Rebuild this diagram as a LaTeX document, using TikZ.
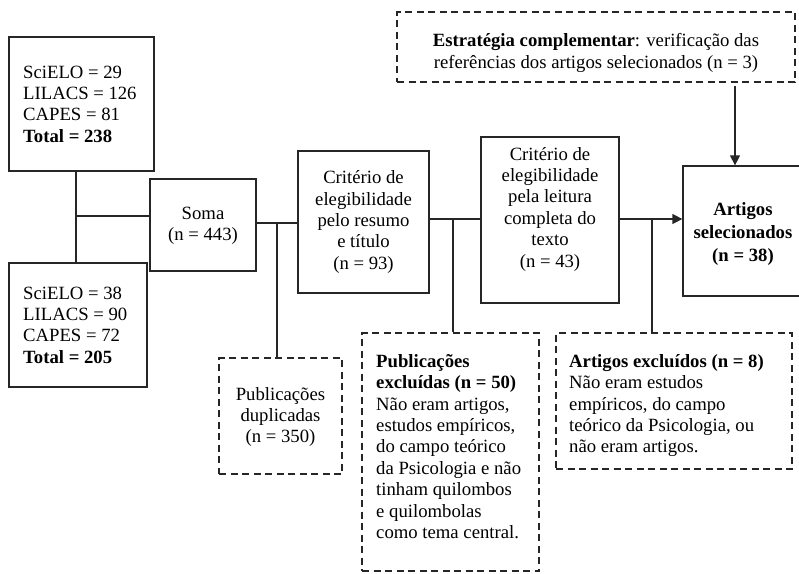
\documentclass[tikz,border=0pt]{standalone}
\usepackage{fontspec}
\setmainfont{Liberation Serif}
\usetikzlibrary{arrows.meta}
\newcommand{\fsz}{\fontsize{18.7}{21.4}\selectfont}
\begin{document}
\begin{tikzpicture}[x=1pt,y=-1pt,
  boxline/.style={line width=1.3pt, draw=black!85},
  solidbox/.style={boxline, rectangle, inner sep=0pt},
  dashbox/.style={boxline, rectangle, inner sep=0pt, dash pattern=on 7pt off 4.5pt},
  txt/.style={font=\fsz, inner sep=0pt, text=black},
  conn/.style={line width=1.3pt, draw=black!85},
  arr/.style={conn, -{Triangle[length=10pt,width=10pt]}}]
\useasboundingbox (0,0) rectangle (799,573);

% boxes
\node[solidbox, minimum width=145pt, minimum height=134pt] (b1) at (81.5,104) {};
\node[solidbox, minimum width=138pt, minimum height=124pt] (b2) at (78,325) {};
\node[solidbox, minimum width=106pt, minimum height=92pt] (soma) at (203,225) {};
\node[solidbox, minimum width=131pt, minimum height=142pt] (crit1) at (363.5,222) {};
\node[solidbox, minimum width=138pt, minimum height=166pt] (crit2) at (550,220) {};
\node[solidbox, minimum width=120pt, minimum height=130pt] (artsel) at (743,231) {};
\node[dashbox, minimum width=398pt, minimum height=70pt] (estr) at (596,47) {};
\node[dashbox, minimum width=123pt, minimum height=116pt] (dup) at (280.5,416) {};
\node[dashbox, minimum width=177pt, minimum height=238pt] (pubex) at (450.5,452) {};
\node[dashbox, minimum width=236pt, minimum height=136pt] (artex) at (674,401) {};

% texts
\node[txt, anchor=west, align=left] (b1t) at (23,104)
  {SciELO = 29\\LILACS = 126\\CAPES = 81\\\textbf{Total = 238}};
\node[txt, anchor=west, align=left] (b2t) at (23,325)
  {SciELO = 38\\LILACS = 90\\CAPES = 72\\\textbf{Total = 205}};
\node[txt, align=center] (somat) at (203,226) {Soma\\(n = 443)};
\node[txt, align=center] (crit1t) at (363.5,222)
  {Critério de\\elegibilidade\\pelo resumo\\e título\\(n = 93)};
\node[txt, align=center] (crit2t) at (550,209)
  {Critério de\\elegibilidade\\pela leitura\\completa do\\texto\\(n = 43)};
\node[txt, align=center, font=\fontsize{18.7}{23}\selectfont\bfseries] (artselt) at (743,234)
  {Artigos\\selecionados\\(n = 38)};
\node[txt, align=center] (estrt) at (596,53)
  {\textbf{Estratégia complementar}: verificação das\\referências dos artigos selecionados (n = 3)};
\node[txt, align=center] (dupt) at (280.5,417)
  {Publicações\\duplicadas\\(n = 350)};
\node[txt, anchor=north west, align=left] (pubext) at (376,354)
  {\textbf{Publicações}\\\textbf{excluídas (n = 50)}\\Não eram artigos,\\estudos empíricos,\\do campo teórico\\da Psicologia e não\\tinham quilombos\\e quilombolas\\como tema central.};
\node[txt, anchor=north west, align=left] (artext) at (569,354)
  {\textbf{Artigos excluídos (n = 8)}\\Não eram estudos\\empíricos, do campo\\teórico da Psicologia, ou\\não eram artigos.};

% junctions
\coordinate (j1) at (76,216);
\coordinate (j2) at (277,223);
\coordinate (j3) at (453,219);
\coordinate (j4) at (652,219);
\coordinate (j5) at (735,86);

% connectors
\draw[conn] (b1.south -| j1) -- (b2.north -| j1);
\draw[conn] (j1) -- (j1 -| soma.west);
\draw[conn] (j2 -| soma.east) -- (j2 -| crit1.west);
\draw[conn] (j2) -- (j2 |- dup.north);
\draw[conn] (j3 -| crit1.east) -- (j3 -| crit2.west);
\draw[conn] (j3) -- (j3 |- pubex.north);
\draw[arr] (j4 -| crit2.east) -- (j4 -| artsel.west);
\draw[conn] (j4) -- (j4 |- artex.north);
\draw[arr] (j5) -- (j5 |- artsel.north);
\end{tikzpicture}
\end{document}
